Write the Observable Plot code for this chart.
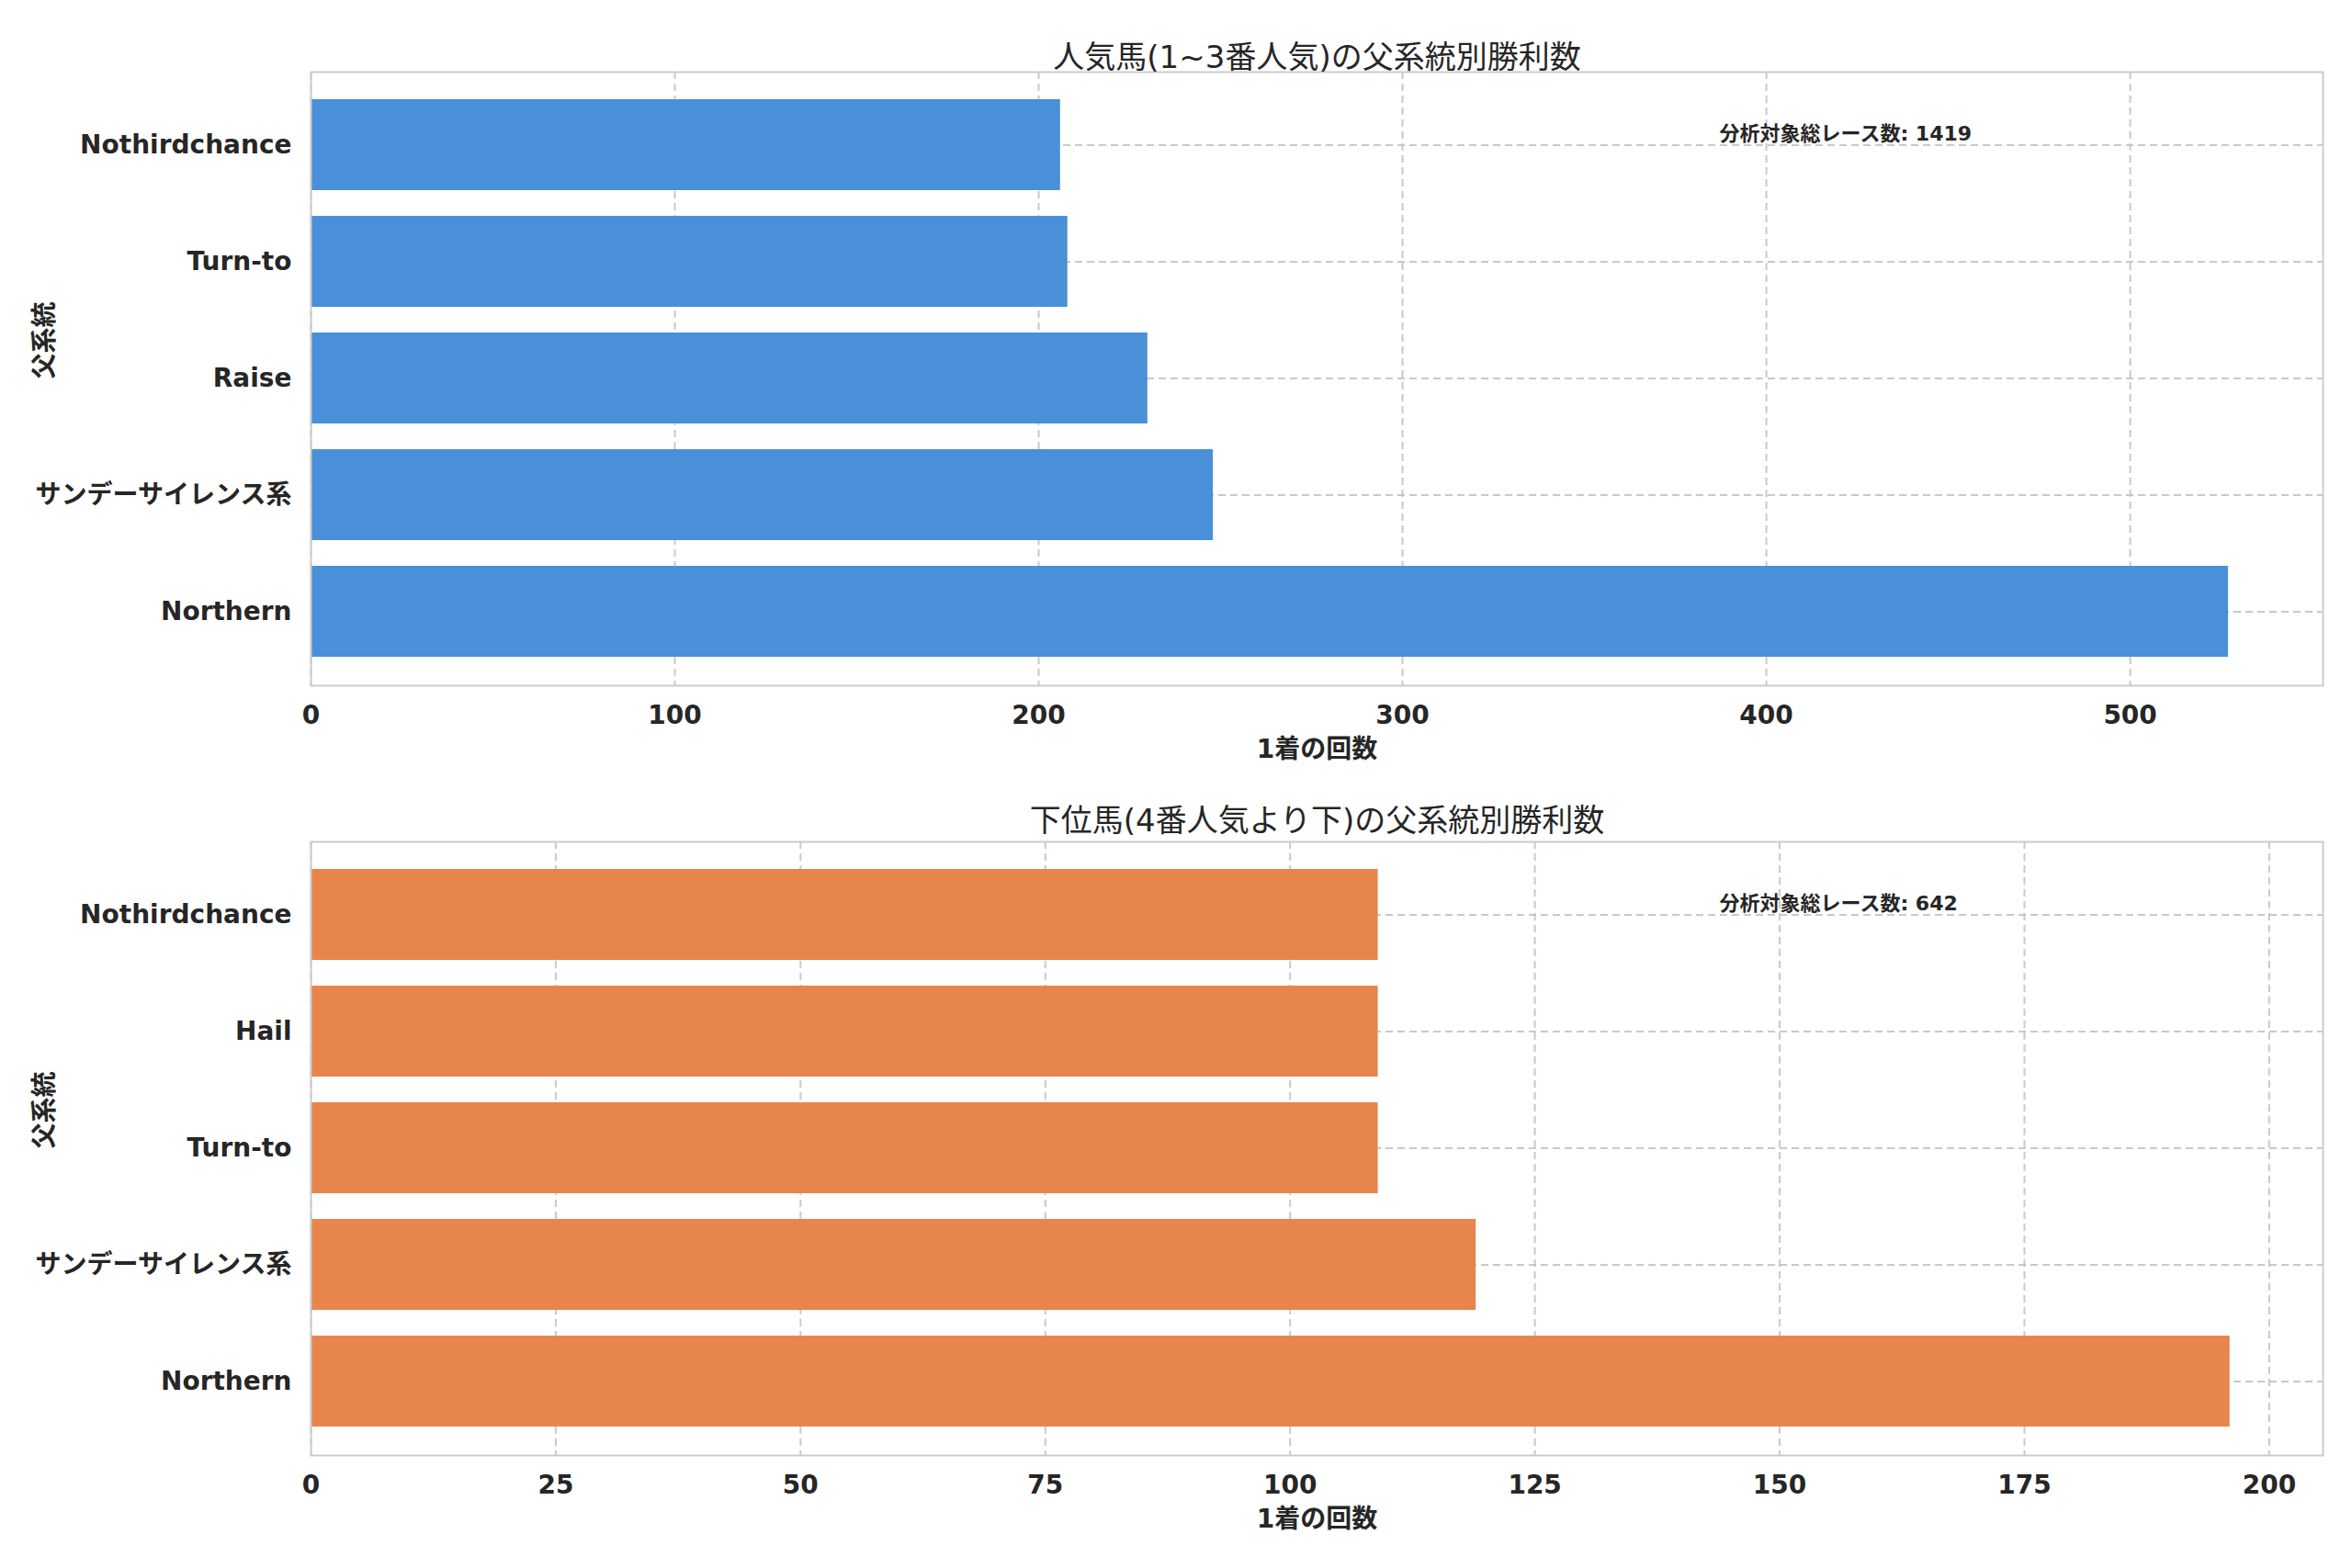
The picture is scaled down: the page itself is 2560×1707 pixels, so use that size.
<!DOCTYPE html>
<html><head><meta charset="utf-8">
<script src="https://cdn.jsdelivr.net/npm/d3@7"></script>
<script src="https://cdn.jsdelivr.net/npm/@observablehq/plot@0.6"></script>
<style>body{margin:0;background:#fff;font-family:"DejaVu Sans","Noto Sans CJK JP",sans-serif}svg{display:block}</style>
</head><body><div id="c"></div>
<script>
const topCats = ["Nothirdchance","Turn-to","Raise","サンデーサイレンス系","Northern"];
const topVals = [206,208,230,248,527];
const botCats = ["Nothirdchance","Hail","Turn-to","サンデーサイレンス系","Northern"];
const botVals = [109,109,109,119,196];
const topTitle = "人気馬(1~3番人気)の父系統別勝利数";
const botTitle = "下位馬(4番人気より下)の父系統別勝利数";
const yLabel = "父系統";
const xLabel = "1着の回数";
const topNote = "分析対象総レース数: 1419";
const botNote = "分析対象総レース数: 642";
const topTicks = [0,100,200,300,400,500];
const botTicks = [0,25,50,75,100,125,150,175,200];

function panel(cats, vals, color, title, note, xmax, ticks, h, mt, mb, tdy){
  const data = cats.map((c,i)=>({c, v: vals[i]}));
  const f = "DejaVu Sans, Noto Sans CJK JP, sans-serif";
  return Plot.plot({
    width:2560, height:h, marginTop:mt, marginBottom:mb, marginLeft:338, marginRight:32,
    style:{fontFamily:f, fontSize:"28px", fontWeight:"bold", color:"#262626", background:"#fff"},
    x:{domain:[0,xmax], ticks, label:null},
    y:{domain:cats, padding:0.22, label:null},
    marks:[
      Plot.gridX(ticks,{stroke:"#bbb", strokeOpacity:0.8, strokeDasharray:"8,5", strokeWidth:2}),
      Plot.gridY(cats,{stroke:"#bbb", strokeOpacity:0.8, strokeDasharray:"8,5", strokeWidth:2}),
      Plot.barX(data,{x:"v", y:"c", fill:color}),
      Plot.frame({stroke:"#ccc", strokeWidth:2}),
      Plot.axisX(ticks,{tickSize:0, tickPadding:22, fontSize:28, fontWeight:"bold", label:xLabel, labelAnchor:"center", labelArrow:"none", labelOffset:78}),
      Plot.axisY(cats,{tickSize:0, tickPadding:21, fontSize:28, fontWeight:"bold", label:null}),
      Plot.text([yLabel],{frameAnchor:"left", dx:-289, rotate:-90, fontSize:28, fontWeight:"bold", fill:"#262626"}),
      Plot.text([title],{frameAnchor:"top", dy:tdy, fontSize:34, fontWeight:"normal", fill:"#262626"}),
      Plot.text([note],{frameAnchor:"top-left", dx:1533, dy:59, textAnchor:"start", fontSize:22, fontWeight:"bold", fill:"#262626"})
    ]
  });
}
const c = document.getElementById("c");
c.append(panel(topCats, topVals, "#4A90D9", topTitle, topNote, 553, topTicks, 850, 78, 104, -29));
c.append(panel(botCats, botVals, "#E8854C", botTitle, botNote, 205.5, botTicks, 857, 66, 123, -36));
</script></body></html>
